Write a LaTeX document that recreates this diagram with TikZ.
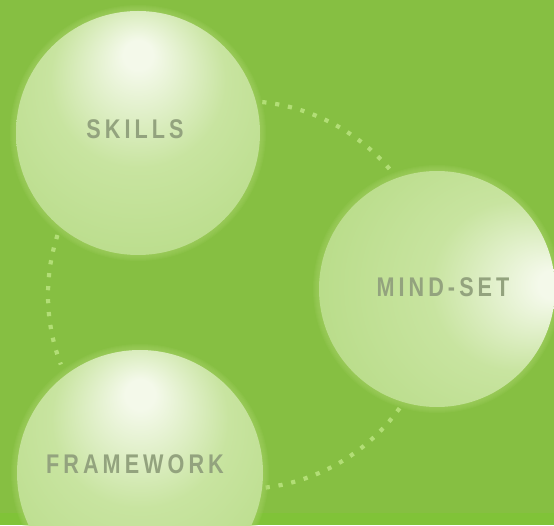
\documentclass[tikz,border=0pt]{standalone}
\usepackage{fontspec}
\newfontfamily\labfont[FakeStretch=0.8,LetterSpace=15]{Liberation Sans Bold}
\usetikzlibrary{calc}
\definecolor{bg}{HTML}{86BF42}
\definecolor{bgstrip}{HTML}{80C338}
\definecolor{dotc}{HTML}{B2DE76}
\definecolor{txt}{HTML}{93A37E}
\definecolor{hl}{HTML}{F4F9EA}
\definecolor{mid}{HTML}{C8E4A0}
\definecolor{low}{HTML}{B4DA82}
\definecolor{rim}{HTML}{A6D367}
\pgfdeclareradialshading{sphtop}{\pgfpoint{0bp}{17bp}}{color(0bp)=(hl); color(3bp)=(hl); color(18bp)=(mid); color(40bp)=(low); color(50bp)=(rim)}
\pgfdeclareradialshading{sphright}{\pgfpoint{26bp}{1bp}}{color(0bp)=(hl); color(3bp)=(hl); color(18bp)=(mid); color(40bp)=(low); color(50bp)=(rim)}
\begin{document}
\begin{tikzpicture}[x=1pt,y=1pt,
  sphnode/.style={circle, inner sep=0pt, draw=none, shade, shading=#1},
  glow/.style={fill=rim, opacity=0.14},
  lbl/.style={text=txt, inner sep=0pt, font=\labfont\fontsize{27}{27}\selectfont},
  dotarc/.style={draw=dotc, line width=4.2pt, dash pattern=on 4.2pt off 8.8pt}]
\useasboundingbox (0,0) rectangle (554,525);
\clip (0,0) rectangle (554,525);
\fill[bg] (0,0) rectangle (554,525);
\fill[bgstrip] (0,0) rectangle (554,12);
% dotted connectors (arcs of one circle)
\coordinate (C) at (242,230);
\coordinate (t1) at ([shift={(C)}]84:194);
\coordinate (l1) at ([shift={(C)}]162:194);
\coordinate (b1) at ([shift={(C)}]277:194);
\draw[dotarc] (t1) arc[start angle=84, end angle=40, radius=194];
\draw[dotarc] (l1) arc[start angle=162, end angle=201, radius=194];
\draw[dotarc] (b1) arc[start angle=277, end angle=325, radius=194];
% soft glows
\foreach \d in {1,2,3,4,5,6}{
  \fill[glow] (138,392) circle (122+\d);
  \fill[glow] (437,236) circle (118+\d);
  \fill[glow] (140,52) circle (123+\d);
}
% spheres
\node[sphnode=sphtop, minimum size=244pt] (skillsball) at (138,392) {};
\node[sphnode=sphright, minimum size=236pt] (mindball) at (437,236) {};
\node[sphnode=sphtop, minimum size=246pt] (frameball) at (140,52) {};
% labels
\node[lbl] (skills) at (135,396) {SKILLS};
\node[lbl] (mindset) at (443,238) {MIND-SET};
\node[lbl] (framework) at (135,61) {FRAMEWORK};
\end{tikzpicture}
\end{document}
